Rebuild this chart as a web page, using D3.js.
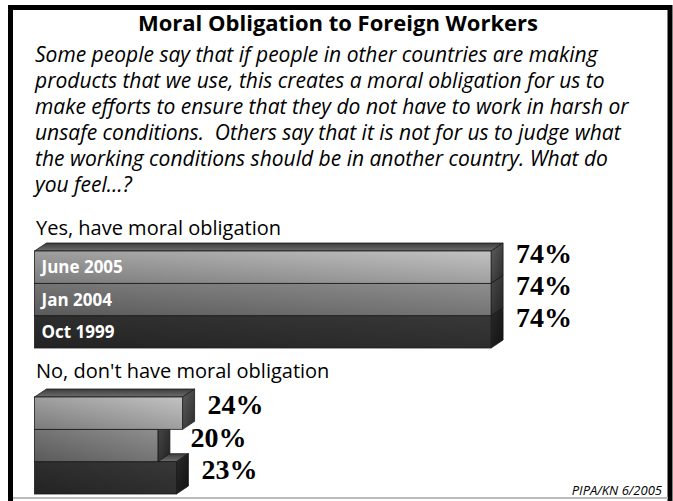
<!DOCTYPE html>
<html>
<head>
<meta charset="utf-8">
<script src="https://cdn.jsdelivr.net/npm/d3@7"></script>
<style>
  html, body { margin: 0; padding: 0; background: #fff; }
  svg { display: block; }
</style>
</head>
<body>
<svg id="chart" width="673" height="501"></svg>
<script>
// ---- data ----
const title = "Moral Obligation to Foreign Workers";
const questionLines = [
  "Some people say that if people in other countries are making",
  "products that we use, this creates a moral obligation for us to",
  "make efforts to ensure that they do not have to work in harsh or",
  "unsafe conditions.  Others say that it is not for us to judge what",
  "the working conditions should be in another country. What do",
  "you feel\u2026?"
];
const periods = ["June 2005", "Jan 2004", "Oct 1999"];
const groupLabels = ["Yes, have moral obligation", "No, don't have moral obligation"];
const yesValues = [74, 74, 74];
const noValues = [24, 20, 23];
const source = "PIPA/KN 6/2005";

// ---- layout ----
const W = 673, H = 501;
const sans = "'Open Sans', Lato, sans-serif";
const svg = d3.select("#chart");
const defs = svg.append("defs");

const depthX = 12, depthY = -8;           // 3D extrusion offset
const x = d3.scaleLinear().domain([0, 100]).range([34.5, 651.5]);

const groups = [
  { label: groupLabels[0], values: yesValues, labelY: 235, top: 251, bottom: 348, showCats: true, valDy: -4.5 },
  { label: groupLabels[1], values: noValues, labelY: 378, top: 397, bottom: 494, showCats: false, valDy: 1 }
];

// front-face gradients per period (dark -> light)
const frontStops = [
  ["#7b7b7b", "#c2c2c2"],
  ["#5a5a5a", "#8e8e8e"],
  ["#232323", "#383838"]
];
const sideStops = [
  ["#5e5e5e", "#2a2a2a"],
  ["#4a4a4a", "#222222"],
  ["#2a2a2a", "#111111"]
];
frontStops.forEach((s, i) => {
  const g = defs.append("linearGradient").attr("id", "front" + i)
    .attr("x1", 0).attr("y1", 1).attr("x2", 1).attr("y2", 0);
  g.append("stop").attr("offset", "0%").attr("stop-color", s[0]);
  g.append("stop").attr("offset", "100%").attr("stop-color", s[1]);
});
sideStops.forEach((s, i) => {
  const g = defs.append("linearGradient").attr("id", "side" + i)
    .attr("x1", 0).attr("y1", 0).attr("x2", 1).attr("y2", 1);
  g.append("stop").attr("offset", "0%").attr("stop-color", s[0]);
  g.append("stop").attr("offset", "100%").attr("stop-color", s[1]);
});
{
  const g = defs.append("linearGradient").attr("id", "topFace")
    .attr("x1", 0).attr("y1", 0).attr("x2", 0).attr("y2", 1);
  g.append("stop").attr("offset", "0%").attr("stop-color", "#3c3c3c");
  g.append("stop").attr("offset", "100%").attr("stop-color", "#6e6e6e");
}

// ---- frame ----
svg.append("path")
  .attr("d", `M10.5,${H} L10.5,7.5 L670,7.5 L670,${H}`)
  .attr("fill", "none").attr("stroke", "#000").attr("stroke-width", 5);
svg.append("line")
  .attr("x1", 13).attr("x2", 668).attr("y1", 498).attr("y2", 498)
  .attr("stroke", "#bbb").attr("stroke-width", 2);

// ---- title & question ----
svg.append("text")
  .attr("x", 338).attr("y", 31)
  .attr("text-anchor", "middle")
  .attr("font-family", sans)
  .attr("font-weight", "bold").attr("font-size", 22)
  .text(title);

svg.append("g").selectAll("text").data(questionLines).join("text")
  .attr("x", 35)
  .attr("y", (d, i) => 62 + i * 26)
  .attr("font-family", sans)
  .attr("font-style", "italic").attr("font-size", 21)
  .style("white-space", "pre")
  .text(d => d);

// ---- bar groups ----
groups.forEach(grp => {
  const gEl = svg.append("g");
  gEl.append("text")
    .attr("x", 36).attr("y", grp.labelY)
    .attr("font-family", sans)
    .attr("font-size", 20)
    .text(grp.label);

  const y = d3.scaleBand().domain(periods).range([grp.top, grp.bottom]).padding(0);
  const rows = periods.map((p, i) => ({ period: p, value: grp.values[i], i }));

  // draw from the bottom row upward so upper bars overlap lower ones
  rows.slice().reverse().forEach(r => {
    const x0 = x(0), x1 = x(r.value);
    const y0 = y(r.period), y1 = y0 + y.bandwidth();
    const bar = gEl.append("g");
    // top face
    bar.append("path")
      .attr("d", `M${x0},${y0} L${x0 + depthX},${y0 + depthY} L${x1 + depthX},${y0 + depthY} L${x1},${y0} Z`)
      .attr("fill", "url(#topFace)").attr("stroke", "#1a1a1a").attr("stroke-width", 0.8);
    // side face
    bar.append("path")
      .attr("d", `M${x1},${y0} L${x1 + depthX},${y0 + depthY} L${x1 + depthX},${y1 + depthY} L${x1},${y1} Z`)
      .attr("fill", `url(#side${r.i})`).attr("stroke", "#1a1a1a").attr("stroke-width", 0.8);
    // front face
    bar.append("rect")
      .attr("x", x0).attr("y", y0)
      .attr("width", x1 - x0).attr("height", y.bandwidth())
      .attr("fill", `url(#front${r.i})`).attr("stroke", "#1a1a1a").attr("stroke-width", 0.8);
  });

  if (grp.showCats) {
    gEl.selectAll("text.cat").data(rows).join("text")
      .attr("class", "cat")
      .attr("x", x(0) + 7)
      .attr("y", d => y(d.period) + y.bandwidth() / 2 + 6)
      .attr("fill", "#fff")
      .attr("font-family", sans)
      .attr("font-weight", "bold").attr("font-size", 17)
      .text(d => d.period);
  }

  // value labels: clear of own bar's depth and of the bar above
  gEl.selectAll("text.val").data(rows).join("text")
    .attr("class", "val")
    .attr("x", (d, k) => {
      const own = x(d.value) + depthX + 13;
      const above = k > 0 ? x(rows[k - 1].value) + 8 : 0;
      return Math.max(own, above);
    })
    .attr("y", d => y(d.period) + y.bandwidth() / 2 + grp.valDy)
    .attr("font-family", "'Liberation Serif', 'Times New Roman', serif")
    .attr("font-weight", "bold").attr("font-size", 28)
    .text(d => d.value + "%");
});

// ---- source ----
svg.append("text")
  .attr("x", 662).attr("y", 495)
  .attr("text-anchor", "end")
  .attr("font-family", sans)
  .attr("font-style", "italic").attr("font-size", 13)
  .text(source);
</script>
</body>
</html>
